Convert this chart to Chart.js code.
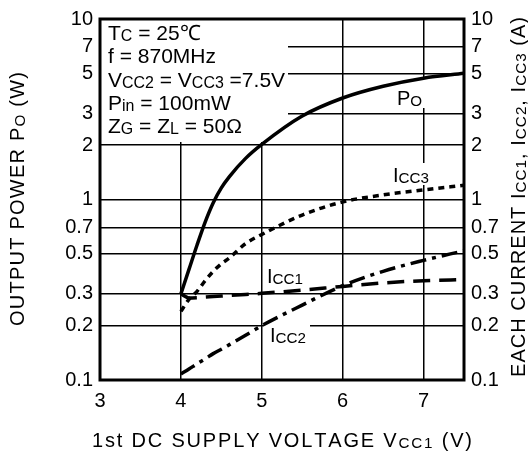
<!DOCTYPE html>
<html>
<head>
<meta charset="utf-8">
<script src="https://cdn.jsdelivr.net/npm/chart.js@4"></script>
<style>
  html, body { margin: 0; padding: 0; background: #fff; }
  #wrap { width: 528px; height: 455px; }
</style>
</head>
<body>
<div id="wrap"><canvas id="myChart" width="528" height="455"></canvas></div>
<script>
// values
const voltage = [4, 4.1, 4.2, 4.3, 4.4, 4.5, 4.6, 4.8, 5, 5.5, 6, 6.5, 7, 7.5];
const outputPower = [0.3, 0.41, 0.56, 0.75, 0.96, 1.16, 1.34, 1.69, 2.02, 2.9, 3.65, 4.24, 4.7, 5.0];
const icc3 = [0.24, 0.28, 0.31, 0.355, 0.4, 0.44, 0.475, 0.57, 0.64, 0.82, 0.97, 1.06, 1.13, 1.2];
const icc1 = [0.3, 0.285, 0.286, 0.288, 0.29, 0.292, 0.294, 0.298, 0.302, 0.315, 0.33, 0.345, 0.355, 0.36];
const icc2 = [0.108, 0.115, 0.123, 0.131, 0.14, 0.148, 0.157, 0.177, 0.2, 0.26, 0.333, 0.4, 0.46, 0.52];
const xTicks = [3, 4, 5, 6, 7];
const yTicks = [0.1, 0.2, 0.3, 0.5, 0.7, 1, 2, 3, 5, 7, 10];

const FONT = '"Liberation Sans", Arial, sans-serif';

function pts(ys) {
  return voltage.map((v, i) => ({x: v, y: ys[i]}));
}

function series(ys, width, dash) {
  return {
    data: pts(ys),
    borderColor: '#000',
    borderWidth: width,
    borderDash: dash,
    pointRadius: 0,
    cubicInterpolationMode: 'monotone',
    fill: false,
  };
}

// draw a run of text pieces; small pieces are the subscripts
function drawRich(ctx, x, y, runs, size, spacing) {
  spacing = spacing || 0;
  for (const [t, kind] of runs) {
    const s = kind ? size * 0.76 : size;
    ctx.font = `${s}px ${FONT}`;
    const dy = kind === 'sub' ? size * 0.04 : 0;
    for (const ch of t) {
      ctx.fillText(ch, x, y + dy);
      x += ctx.measureText(ch).width + spacing;
    }
  }
  return x;
}

function richWidth(ctx, runs, size, spacing) {
  let w = 0, n = 0;
  for (const [t, kind] of runs) {
    ctx.font = `${kind ? size * 0.76 : size}px ${FONT}`;
    for (const ch of t) {
      w += ctx.measureText(ch).width;
      n++;
    }
  }
  return w + spacing * (n - 1);
}

// spread text so it fills a given length
function drawFitted(ctx, x, y, runs, size, length) {
  const n = runs.reduce((a, r) => a + [...r[0]].length, 0);
  const natural = richWidth(ctx, runs, size, 0);
  const spacing = Math.max(0, (length - natural) / (n - 1));
  drawRich(ctx, x, y, runs, size, spacing);
}

const decor = {
  id: 'decor',
  beforeDatasetsDraw(chart) {
    const ctx = chart.ctx;
    ctx.save();
    ctx.fillStyle = '#fff';
    // blank area behind the conditions block and curve labels
    ctx.fillRect(101, 17, 187, 125);
    ctx.fillRect(395, 77, 34, 31);
    ctx.fillRect(390, 163, 40, 22);
    ctx.fillRect(264, 256, 40, 32);
    ctx.fillRect(264, 318, 46, 28);
    ctx.restore();
  },
  afterDraw(chart) {
    const ctx = chart.ctx;
    const a = chart.chartArea;
    ctx.save();
    ctx.strokeStyle = '#000';
    ctx.lineWidth = 3;
    ctx.strokeRect(a.left, a.top, a.right - a.left, a.bottom - a.top);

    ctx.fillStyle = '#000';
    ctx.textBaseline = 'alphabetic';
    ctx.textAlign = 'left';
    const size = 21;
    drawRich(ctx, 108, 40, [['T', ''], ['C', 'sub'], [' = 25℃', '']], size);
    drawRich(ctx, 108, 63, [['f = 870MHz', '']], size);
    drawRich(ctx, 108, 87, [['V', ''], ['CC2', 'sub'], [' = V', ''], ['CC3', 'sub'], [' =7.5V', '']], size);
    drawRich(ctx, 108, 110, [['P', ''], ['in', 'sub'], [' = 100mW', '']], size);
    drawRich(ctx, 108, 133, [['Z', ''], ['G', 'sub'], [' = Z', ''], ['L', 'sub'], [' = 50Ω', '']], size);

    // curve labels
    drawRich(ctx, 397, 105, [['P', ''], ['O', 'sub']], 20);
    drawRich(ctx, 393, 182, [['I', ''], ['CC3', 'sub']], 20);
    drawRich(ctx, 267, 283, [['I', ''], ['CC1', 'sub']], 20);
    drawRich(ctx, 270, 342, [['I', ''], ['CC2', 'sub']], 20);

    // axis titles
    drawFitted(ctx, 92, 447, [['1st DC SUPPLY VOLTAGE V', ''], ['CC1', 'sub'], [' (V)', '']], 20, 380);

    ctx.save();
    ctx.translate(24, 326);
    ctx.rotate(-Math.PI / 2);
    drawFitted(ctx, 0, 0, [['OUTPUT POWER P', ''], ['O', 'sub'], [' (W)', '']], 20, 254);
    ctx.restore();

    ctx.save();
    ctx.translate(525, 377);
    ctx.rotate(-Math.PI / 2);
    drawFitted(ctx, 0, 0, [['EACH CURRENT I', ''], ['CC1', 'sub'], [', I', ''], ['CC2', 'sub'], [', I', ''], ['CC3', 'sub'], [' (A)', '']], 20, 360);
    ctx.restore();
    ctx.restore();
  }
};

const logTicks = (scale) => {
  scale.ticks = yTicks.map(v => ({value: v}));
};

const config = {
  type: 'line',
  data: {
    datasets: [
      series(outputPower, 3.5, []),
      series(icc3, 3.5, [6, 5]),
      series(icc1, 3.5, [17, 9]),
      series(icc2, 3.5, [16, 6, 4, 6]),
    ]
  },
  options: {
    responsive: false,
    animation: false,
    layout: {padding: {top: 16, right: 0, left: 0, bottom: 0}},
    plugins: {legend: {display: false}, tooltip: {enabled: false}},
    scales: {
      x: {
        type: 'linear',
        min: 3,
        max: 7.5,
        afterBuildTicks: (scale) => { scale.ticks = xTicks.map(v => ({value: v})); },
        afterFit: (scale) => { scale.height = 75; },
        ticks: {color: '#000', font: {family: FONT, size: 20}, padding: 9, maxRotation: 0},
        grid: {color: '#000', lineWidth: 1.5, drawTicks: false},
        border: {display: false},
      },
      y: {
        type: 'logarithmic',
        position: 'left',
        min: 0.1,
        max: 10,
        afterBuildTicks: logTicks,
        afterFit: (scale) => { scale.width = 100; },
        ticks: {color: '#000', font: {family: FONT, size: 20}, padding: 7,
                callback: (v) => String(v)},
        grid: {color: '#000', lineWidth: 1.5, drawTicks: false},
        border: {display: false},
      },
      y2: {
        type: 'logarithmic',
        position: 'right',
        min: 0.1,
        max: 10,
        afterBuildTicks: logTicks,
        afterFit: (scale) => { scale.width = 64; },
        ticks: {color: '#000', font: {family: FONT, size: 20}, padding: 7,
                callback: (v) => String(v)},
        grid: {display: false, drawTicks: false},
        border: {display: false},
      },
    }
  },
  plugins: [decor],
};

const chart = new Chart(document.getElementById('myChart'), config);
</script>
</body>
</html>
